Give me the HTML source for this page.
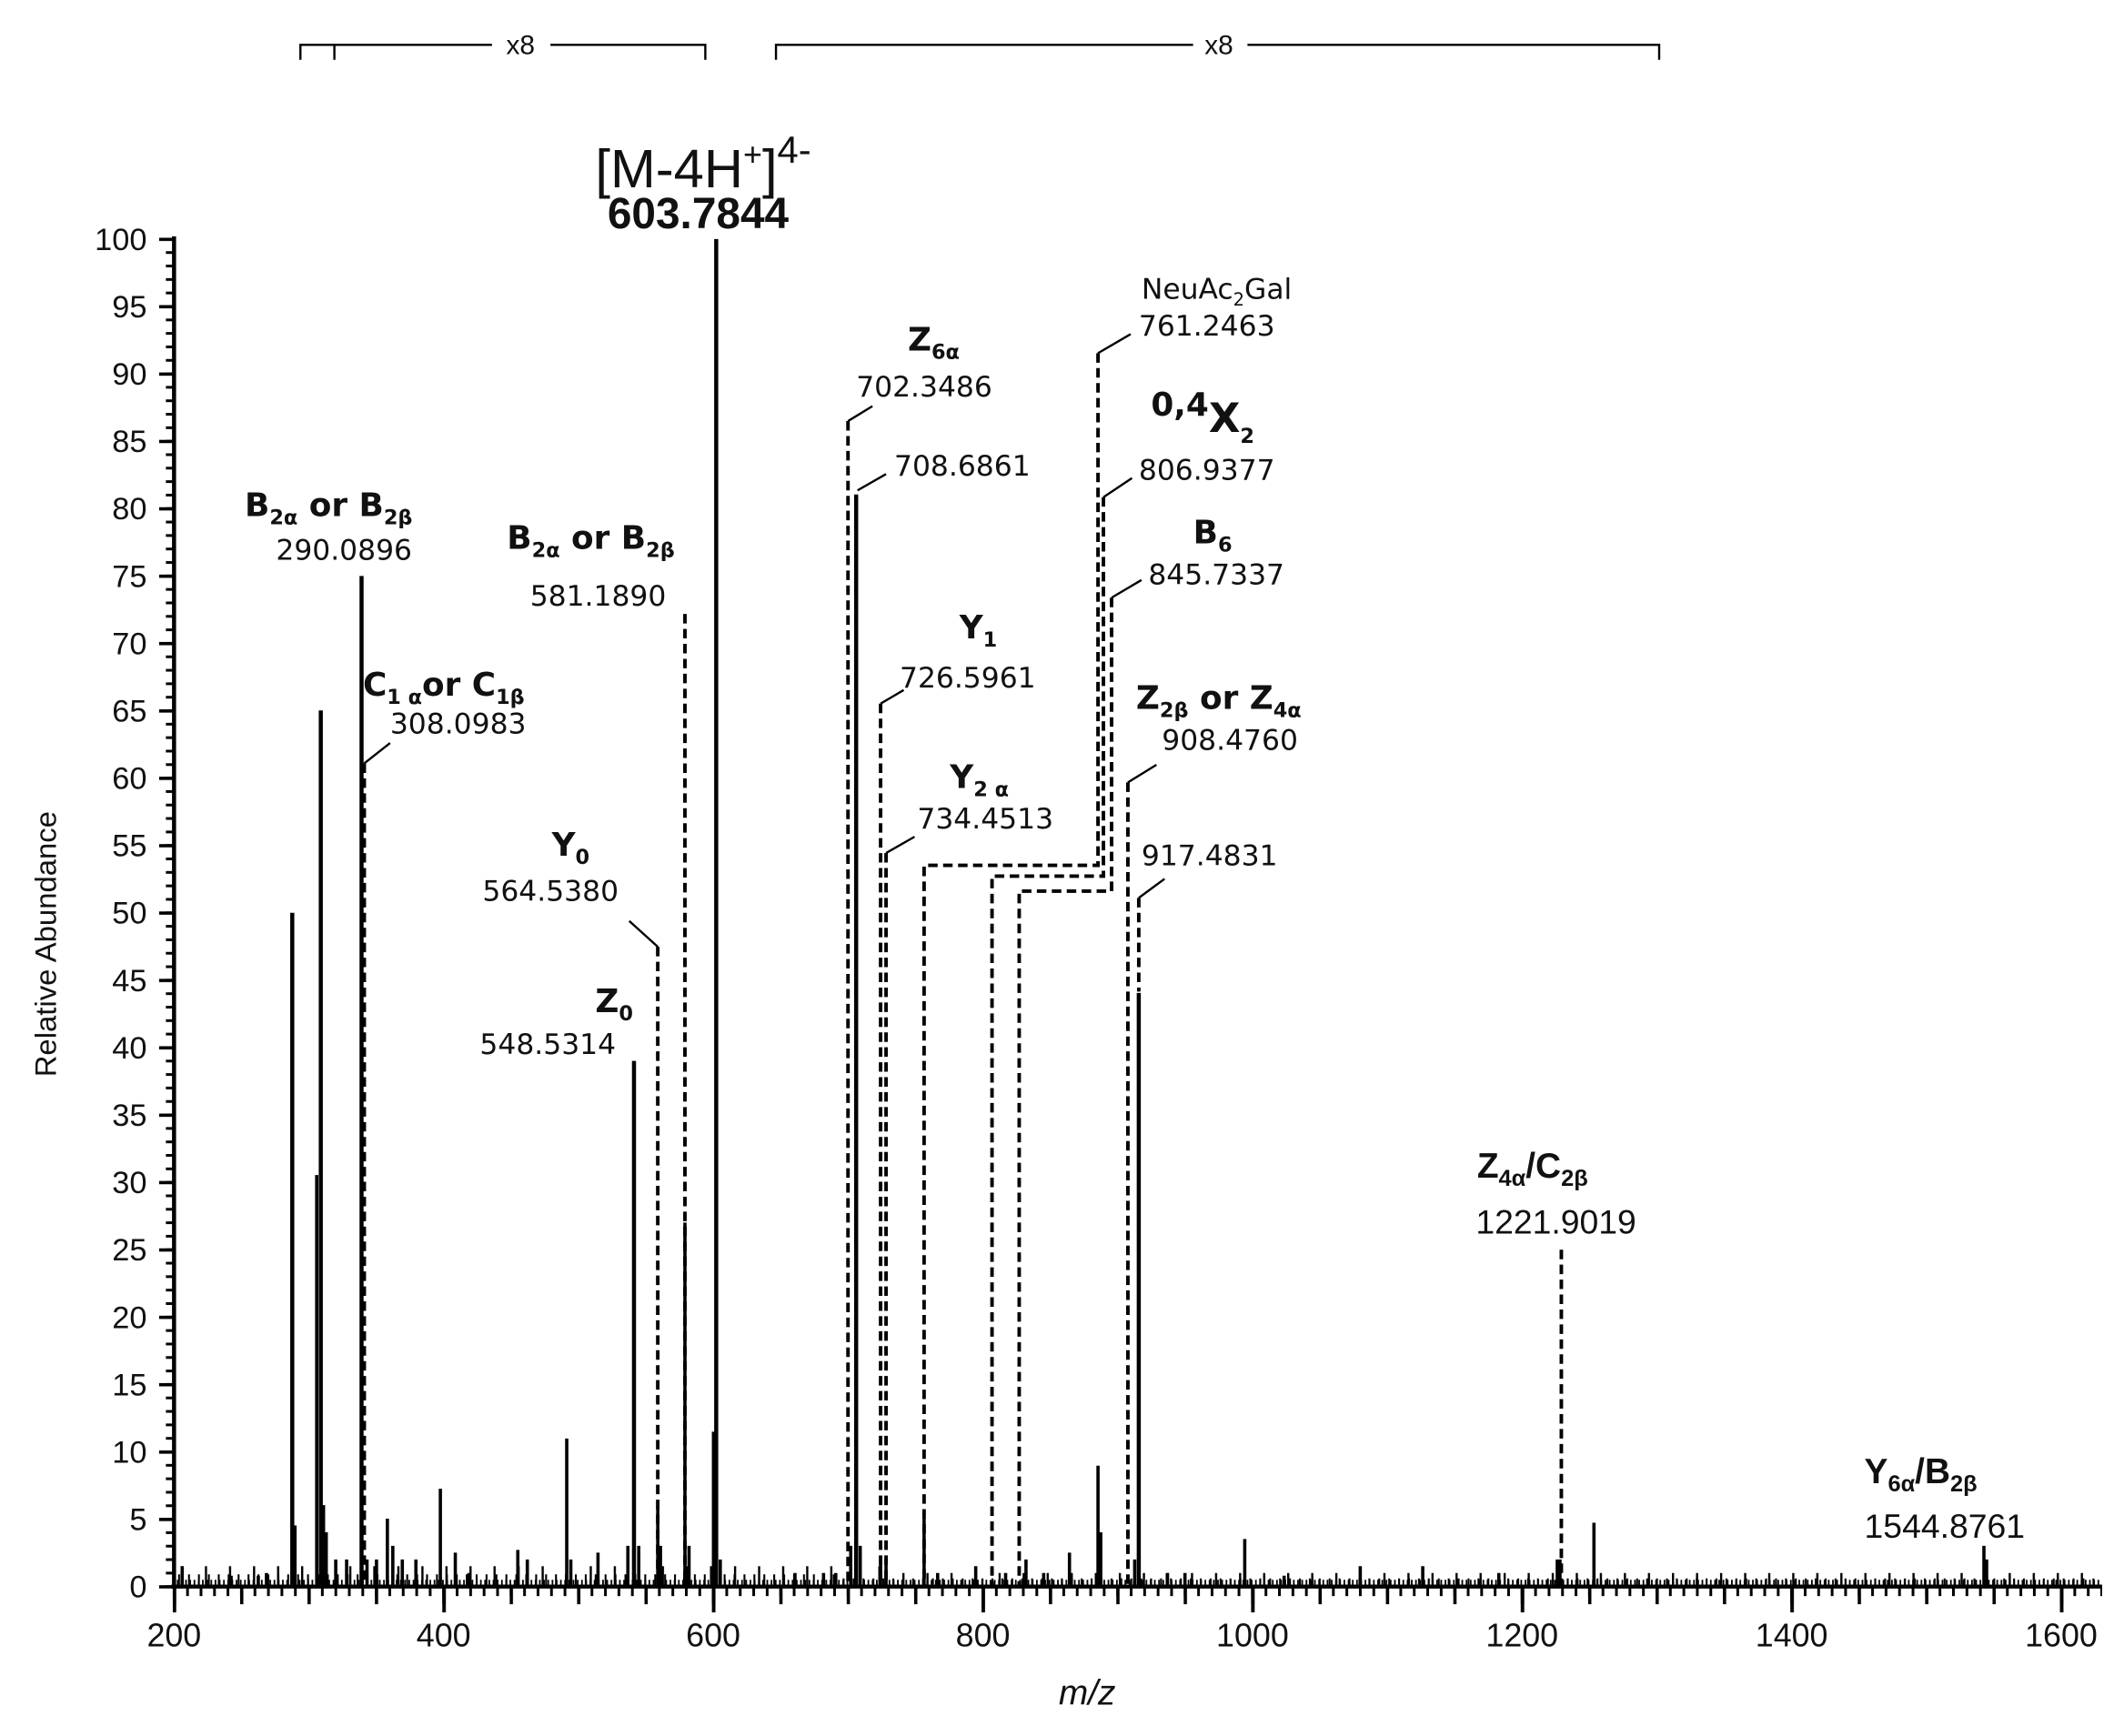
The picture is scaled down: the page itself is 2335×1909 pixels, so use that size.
<!DOCTYPE html>
<html><head><meta charset="utf-8"><style>
html,body{margin:0;padding:0;background:#fff;}
svg{display:block;}
.n{font-family:"DejaVu Sans",sans-serif;font-size:21px;fill:#111;}
.b{font-family:"DejaVu Sans",sans-serif;font-size:24px;font-weight:bold;fill:#111;}
.c{font-family:"Liberation Sans",sans-serif;fill:#111;}
.s{font-size:15px;}
.d{stroke:#000;stroke-width:2.6;stroke-dasharray:7,4;fill:none;}
.l{stroke:#000;stroke-width:1.6;fill:none;}
</style></head><body>
<svg width="2335" height="1909" viewBox="0 0 1563 1278" xmlns="http://www.w3.org/2000/svg">
<defs>
<pattern id="xmin" patternUnits="userSpaceOnUse" x="127" y="0" width="9.921" height="20"><rect x="0" y="0" width="2" height="20" fill="#000"/></pattern>
<pattern id="xmed" patternUnits="userSpaceOnUse" x="127" y="0" width="49.605" height="20"><rect x="0" y="0" width="2.4" height="20" fill="#000"/></pattern>
<pattern id="xmaj" patternUnits="userSpaceOnUse" x="127" y="0" width="198.42" height="20"><rect x="0" y="0" width="2.6" height="20" fill="#000"/></pattern>
<pattern id="ymin" patternUnits="userSpaceOnUse" x="0" y="175" width="20" height="9.92"><rect x="0" y="0" width="20" height="2" fill="#000"/></pattern>
<pattern id="ymaj" patternUnits="userSpaceOnUse" x="0" y="175" width="20" height="49.6"><rect x="0" y="0" width="20" height="2.4" fill="#000"/></pattern>
<pattern id="n1" patternUnits="userSpaceOnUse" x="130" y="0" width="3.1" height="20"><rect x="0" y="0" width="1.2" height="20" fill="#000"/></pattern>
<pattern id="n2" patternUnits="userSpaceOnUse" x="131" y="0" width="7.3" height="20"><rect x="0" y="0" width="1.4" height="20" fill="#000"/></pattern>
<pattern id="n3" patternUnits="userSpaceOnUse" x="133" y="0" width="17.7" height="20"><rect x="0" y="0" width="1.6" height="20" fill="#000"/></pattern>
</defs>
<rect width="1563" height="1278" fill="#fff"/>
<!-- x8 brackets -->
<g class="l" stroke-width="2">
<path d="M221,44 V33 H362 M405,33 H519 V44 M246,33 V44"/>
<path d="M571,44 V33 H878 M918,33 H1221 V44"/>
</g>
<text class="c" x="383" y="40" font-size="20" text-anchor="middle">x8</text>
<text class="c" x="897" y="40" font-size="20" text-anchor="middle">x8</text>
<!-- noise -->
<rect x="130" y="1163" width="1415" height="5" fill="url(#n1)"/>
<rect x="130" y="1159" width="490" height="9" fill="url(#n2)"/>
<rect x="620" y="1162" width="925" height="6" fill="url(#n2)"/>
<rect x="130" y="1153" width="520" height="15" fill="url(#n3)"/>
<rect x="650" y="1158" width="895" height="10" fill="url(#n3)"/>
<!-- ticks -->
<rect x="127" y="1168" width="1420" height="7" fill="url(#xmin)"/>
<rect x="127" y="1168" width="1420" height="13" fill="url(#xmed)"/>
<rect x="127" y="1168" width="1420" height="19" fill="url(#xmaj)"/>
<rect x="122" y="175" width="6" height="995" fill="url(#ymin)"/>
<rect x="117" y="175" width="11" height="995" fill="url(#ymaj)"/>
<!-- axes -->
<line x1="128" y1="174" x2="128" y2="1169" stroke="#000" stroke-width="3"/>
<line x1="126" y1="1168" x2="1547" y2="1168" stroke="#000" stroke-width="3"/>
<g class="c" font-size="24" text-anchor="middle">
<text x="128" y="1212">200</text><text x="326.4" y="1212">400</text><text x="524.8" y="1212">600</text><text x="723.3" y="1212">800</text><text x="921.7" y="1212">1000</text><text x="1120.1" y="1212">1200</text><text x="1318.5" y="1212">1400</text><text x="1516.9" y="1212">1600</text>
</g>
<g class="c" font-size="23" text-anchor="end">
<text x="108" y="1176">0</text><text x="108" y="1126.4">5</text><text x="108" y="1076.8">10</text><text x="108" y="1027.2">15</text><text x="108" y="977.6">20</text><text x="108" y="928">25</text><text x="108" y="878.4">30</text><text x="108" y="828.8">35</text><text x="108" y="779.2">40</text><text x="108" y="729.6">45</text><text x="108" y="680">50</text><text x="108" y="630.4">55</text><text x="108" y="580.8">60</text><text x="108" y="531.2">65</text><text x="108" y="481.6">70</text><text x="108" y="432">75</text><text x="108" y="382.4">80</text><text x="108" y="332.8">85</text><text x="108" y="283.2">90</text><text x="108" y="233.6">95</text><text x="108" y="184">100</text>
</g>
<!-- spectrum peaks -->
<path stroke="#000" stroke-width="2.4" fill="none" d="M134,1168V1153M170,1168V1160M190,1168V1160M196,1168V1158M217,1168V1123M233,1168V865M238,1168V1108M240,1168V1128M247,1168V1148M255,1168V1148M270,1168V1148M277,1168V1148M285,1168V1118M289,1168V1138M296,1168V1148M306,1168V1148M324,1168V1096M335,1168V1143M345,1168V1158M381,1168V1141M388,1168V1148M417,1168V1059M420,1168V1148M440,1168V1143M462,1168V1138M470,1168V1138M484,1168V1108M486,1168V1138M504,1168V900M507,1168V1138M525,1168V1054M530,1168V1148M585,1168V1158M606,1168V1158M615,1168V1158M626,1168V1138M633,1168V1138M648,1168V1148M652,1168V1148M680,1168V1118M690,1168V1158M718,1168V1153M740,1168V1158M755,1168V1148M768,1168V1158M787,1168V1143M808,1168V1079M810,1168V1128M835,1168V1148M859,1168V1158M872,1168V1158M916,1168V1133M945,1168V1160M1001,1168V1153M1047,1168V1153M1103,1168V1158M1146,1168V1148M1148,1168V1148M1173,1168V1121M1460,1168V1138M1462,1168V1148"/>
<path stroke="#000" stroke-width="3" fill="none" d="M527,1168V176M630,1168V364M838,1168V731M466.5,1168V781M215,1168V672M236,1168V523M266,1168V424"/>
<text class="c" font-size="22" transform="translate(41,695) rotate(-90)" text-anchor="middle">Relative Abundance</text>
<text class="c" x="800" y="1255" font-size="26" font-style="italic" text-anchor="middle">m/z</text>
<!-- dashed annotations -->
<g class="d">
<path d="M268,562 V1168"/>
<path d="M504,452 V1168"/>
<path d="M484,697 V1168"/>
<path d="M624,310 V1168"/>
<path d="M648,518 V1168"/>
<path d="M652,628 V1168"/>
<path d="M808,260 V637 H680 V1168"/>
<path d="M812,366 V645 H730 V1168"/>
<path d="M818,440 V656 H750 V1168"/>
<path d="M830,576 V1168"/>
<path d="M838,661 V730"/>
<path d="M1149,920 V1168"/>
</g>
<g class="l">
<path d="M268,562 L287,547"/>
<path d="M463,678 L484,697"/>
<path d="M624,310 L642,299"/>
<path d="M631,361 L652,349"/>
<path d="M648,518 L665,508"/>
<path d="M652,628 L673,616"/>
<path d="M808,260 L832,246"/>
<path d="M812,366 L833,352"/>
<path d="M818,440 L840,427"/>
<path d="M830,576 L851,563"/>
<path d="M838,661 L857,647"/>
</g>
<!-- text annotations -->
<text class="c" x="438" y="138" font-size="40">[M-4H<tspan font-size="24" dy="-16">+</tspan><tspan dy="16">]</tspan><tspan font-size="28" dy="-18">4-</tspan></text>
<text class="c" x="447" y="168" font-size="32" font-weight="bold">603.7844</text>

<text class="b" x="180" y="380">B<tspan class="s" dy="6">2α</tspan><tspan dy="-6"> or B</tspan><tspan class="s" dy="6">2β</tspan></text>
<text class="n" x="203" y="412">290.0896</text>
<text class="b" x="373" y="404">B<tspan class="s" dy="6">2α</tspan><tspan dy="-6"> or B</tspan><tspan class="s" dy="6">2β</tspan></text>
<text class="n" x="390" y="446">581.1890</text>
<text class="b" x="267" y="512">C<tspan class="s" dy="6">1 α</tspan><tspan dy="-6">or C</tspan><tspan class="s" dy="6">1β</tspan></text>
<text class="n" x="287" y="540">308.0983</text>
<text class="b" x="406" y="630">Y<tspan class="s" dy="6">0</tspan></text>
<text class="n" x="355" y="663">564.5380</text>
<text class="b" x="438" y="745">Z<tspan class="s" dy="6">0</tspan></text>
<text class="n" x="353" y="776">548.5314</text>
<text class="b" x="668" y="258">Z<tspan class="s" dy="6">6α</tspan></text>
<text class="n" x="630" y="292">702.3486</text>
<text class="n" x="658" y="350">708.6861</text>
<text class="b" x="706" y="470">Y<tspan class="s" dy="6">1</tspan></text>
<text class="n" x="662" y="506">726.5961</text>
<text class="b" x="699" y="580">Y<tspan class="s" dy="6">2 α</tspan></text>
<text class="n" x="675" y="610">734.4513</text>
<text class="n" x="840" y="220">NeuAc<tspan font-size="13" dy="5">2</tspan><tspan dy="-5">Gal</tspan></text>
<text class="n" x="838" y="247">761.2463</text>
<text class="b" x="847" y="306" font-size="19">0,4<tspan font-size="30" dy="12">X</tspan><tspan class="s" font-size="20" dy="8">2</tspan></text>
<text class="n" x="838" y="353">806.9377</text>
<text class="b" x="878" y="400">B<tspan class="s" dy="6">6</tspan></text>
<text class="n" x="845" y="430">845.7337</text>
<text class="b" x="836" y="522">Z<tspan class="s" dy="6">2β</tspan><tspan dy="-6"> or Z</tspan><tspan class="s" dy="6">4α</tspan></text>
<text class="n" x="855" y="552">908.4760</text>
<text class="n" x="840" y="637">917.4831</text>
<text class="c" x="1087" y="867" font-size="26" font-weight="bold">Z<tspan font-size="17" dy="6">4α</tspan><tspan dy="-6">/C</tspan><tspan font-size="17" dy="6">2β</tspan></text>
<text class="c" x="1086" y="908" font-size="25">1221.9019</text>
<text class="c" x="1372" y="1092" font-size="26" font-weight="bold">Y<tspan font-size="17" dy="6">6α</tspan><tspan dy="-6">/B</tspan><tspan font-size="17" dy="6">2β</tspan></text>
<text class="c" x="1372" y="1132" font-size="25">1544.8761</text>
</svg>
</body></html>
